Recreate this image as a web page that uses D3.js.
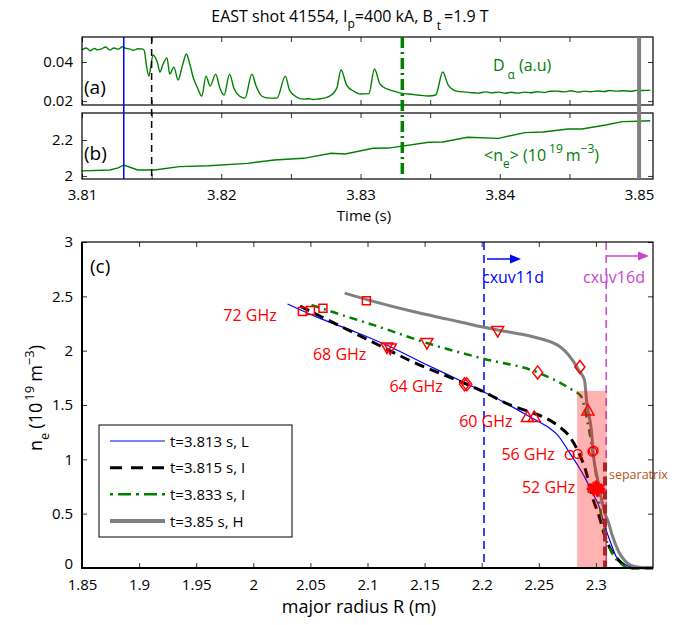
<!DOCTYPE html>
<html>
<head>
<meta charset="utf-8">
<script src="https://cdn.jsdelivr.net/npm/d3@7/dist/d3.min.js"></script>
<style>
    body { margin: 0; background: white; }
    svg text { font-family: "Open Sans", sans-serif; }
</style>
</head>
<body>
<svg id="chart" width="675" height="625"></svg>
<script>
    // ---------- data ----------
    // (a) D-alpha trace
    let daTime = [3.8100, 3.8103, 3.8106, 3.8109, 3.8111, 3.8114, 3.8117, 3.8120, 3.8123, 3.8126,
        3.8129, 3.8131, 3.8134, 3.8137, 3.8140, 3.8144, 3.8145, 3.8146, 3.8148, 3.8149,
        3.8151, 3.8154, 3.8156, 3.8158, 3.8161, 3.8163, 3.8166, 3.8169, 3.8172, 3.8175,
        3.8177, 3.8180, 3.8183, 3.8186, 3.8189, 3.8192, 3.8196, 3.8199, 3.8202, 3.8206,
        3.8209, 3.8213, 3.8217, 3.8222, 3.8225, 3.8229, 3.8234, 3.8240, 3.8246, 3.8249,
        3.8254, 3.8259, 3.8263, 3.8266, 3.8270, 3.8274, 3.8279, 3.8283, 3.8286, 3.8290,
        3.8295, 3.8300, 3.8306, 3.8310, 3.8314, 3.8319, 3.8324, 3.8329, 3.8334, 3.8341,
        3.8349, 3.8354, 3.8359, 3.8363, 3.8369, 3.8376, 3.8380, 3.8384, 3.8390, 3.8394,
        3.8399, 3.8404, 3.8408, 3.8413, 3.8418, 3.8422, 3.8427, 3.8432, 3.8436, 3.8441,
        3.8446, 3.8451, 3.8456, 3.8461, 3.8465, 3.8470, 3.8475, 3.8479, 3.8484, 3.8489,
        3.8494, 3.8499, 3.8503, 3.8508]
    let daValue = [0.0462, 0.0472, 0.0458, 0.0470, 0.0462, 0.0467, 0.0477, 0.0461, 0.0472, 0.0466,
        0.0478, 0.0471, 0.0467, 0.0460, 0.0468, 0.0466, 0.0451, 0.0395, 0.0328, 0.0359,
        0.0436, 0.0400, 0.0349, 0.0385, 0.0421, 0.0338, 0.0374, 0.0308, 0.0379, 0.0441,
        0.0400, 0.0318, 0.0267, 0.0226, 0.0328, 0.0277, 0.0338, 0.0267, 0.0231, 0.0338,
        0.0267, 0.0226, 0.0215, 0.0338, 0.0277, 0.0226, 0.0215, 0.0215, 0.0328, 0.0256,
        0.0221, 0.0210, 0.0212, 0.0208, 0.0211, 0.0215, 0.0231, 0.0267, 0.0359, 0.0282,
        0.0251, 0.0236, 0.0238, 0.0364, 0.0287, 0.0262, 0.0251, 0.0241, 0.0236, 0.0231,
        0.0226, 0.0231, 0.0349, 0.0282, 0.0251, 0.0246, 0.0243, 0.0241, 0.0247, 0.0242,
        0.0246, 0.0240, 0.0245, 0.0241, 0.0246, 0.0243, 0.0248, 0.0244, 0.0250, 0.0251,
        0.0247, 0.0253, 0.0246, 0.0251, 0.0248, 0.0252, 0.0249, 0.0254, 0.0251, 0.0253,
        0.0250, 0.0256, 0.0254, 0.0256]

    // (b) line-averaged density
    let neTime = [3.8100, 3.8120, 3.8126, 3.8130, 3.8140, 3.8152, 3.8170, 3.8191, 3.8219, 3.8238,
        3.8259, 3.8279, 3.8289, 3.8309, 3.8320, 3.8349, 3.8359, 3.8377, 3.8399, 3.8418,
        3.8431, 3.8449, 3.8459, 3.8476, 3.8488, 3.8499, 3.8508]
    let neValue = [2.028, 2.033, 2.045, 2.061, 2.033, 2.033, 2.052, 2.057, 2.070, 2.089,
        2.098, 2.126, 2.122, 2.154, 2.155, 2.187, 2.189, 2.215, 2.209, 2.241,
        2.244, 2.261, 2.261, 2.283, 2.302, 2.304, 2.307]

    // times of the four profiles
    let profileTimes = [3.813, 3.815, 3.833, 3.85]
    let legendLabels = ["t=3.813 s, L", "t=3.815 s, I", "t=3.833 s, I", "t=3.85 s, H"]

    // (c) density profiles
    let rL = [2.030, 2.060, 2.090, 2.117, 2.150, 2.186, 2.215, 2.244, 2.259, 2.266, 2.277, 2.285, 2.291, 2.297, 2.303, 2.307, 2.312, 2.318, 2.326, 2.335, 2.350]
    let nL = [2.43, 2.29, 2.17, 2.05, 1.88, 1.70, 1.55, 1.38, 1.29, 1.23, 1.06, 0.93, 0.82, 0.69, 0.56, 0.41, 0.26, 0.10, 0.03, 0.00, 0.00]
    let rI1 = [2.041, 2.060, 2.087, 2.110, 2.139, 2.178, 2.198, 2.225, 2.244, 2.256, 2.268, 2.277, 2.285, 2.291, 2.297, 2.303, 2.307, 2.312, 2.320, 2.332, 2.350]
    let nI1 = [2.41, 2.31, 2.17, 2.05, 1.90, 1.73, 1.64, 1.50, 1.43, 1.38, 1.30, 1.21, 1.06, 0.90, 0.65, 0.47, 0.32, 0.19, 0.07, 0.00, 0.00]
    let rI2 = [2.051, 2.080, 2.110, 2.152, 2.200, 2.249, 2.279, 2.287, 2.291, 2.296, 2.300, 2.303, 2.307, 2.314, 2.322, 2.329, 2.350]
    let nI2 = [2.42, 2.32, 2.22, 2.07, 1.93, 1.80, 1.64, 1.58, 1.43, 1.15, 0.87, 0.60, 0.35, 0.14, 0.04, 0.00, 0.00]
    let rH = [2.080, 2.110, 2.140, 2.170, 2.200, 2.214, 2.244, 2.268, 2.279, 2.285, 2.290, 2.292, 2.296, 2.298, 2.301, 2.305, 2.308, 2.311, 2.314, 2.320, 2.326, 2.332, 2.340, 2.350]
    let nH = [2.53, 2.44, 2.36, 2.29, 2.22, 2.19, 2.13, 2.04, 1.92, 1.82, 1.73, 1.52, 1.27, 1.02, 0.84, 0.63, 0.50, 0.42, 0.31, 0.15, 0.06, 0.02, 0.005, 0.00]

    // reflectometer channels: markers
    let freqLabels = ["72 GHz", "68 GHz", "64 GHz", "60 GHz", "56 GHz", "52 GHz"]
    let freqLabelR = [2.0205, 2.099, 2.166, 2.227, 2.264, 2.282]
    let freqLabelNe = [2.274, 1.915, 1.62, 1.30, 0.994, 0.69]
    let mark72 = [[2.043, 2.36], [2.050, 2.37], [2.061, 2.39], [2.099, 2.46]]
    let mark68 = [[2.117, 2.03], [2.120, 2.02], [2.152, 2.07], [2.214, 2.18]]
    let mark64 = [[2.185, 1.69], [2.187, 1.69], [2.249, 1.80], [2.286, 1.85]]
    let mark60 = [[2.240, 1.39], [2.246, 1.39], [2.293, 1.45]]
    let mark56 = [[2.277, 1.04], [2.284, 1.05], [2.297, 1.07], [2.298, 1.08]]
    let mark52 = [[2.298, 0.73], [2.300, 0.74], [2.302, 0.73], [2.301, 0.72]]

    // CXRS channel positions, separatrix, shaded zone
    let cxuvR = [2.202, 2.309]
    let cxuvLabels = ["cxuv11d", "cxuv16d"]
    let separatrixR = 2.308
    let separatrixTop = 0.97
    let shadeR = [2.2836, 2.3096]
    let shadeTop = 1.63

    // ticks
    let timeTicks = [3.81, 3.815, 3.82, 3.825, 3.83, 3.835, 3.84, 3.845, 3.85]
    let timeLabels = [3.81, 3.82, 3.83, 3.84, 3.85]
    let daTicks = [0.02, 0.04]
    let neTicks = [2, 2.2]
    let rTicks = [1.85, 1.9, 1.95, 2, 2.05, 2.1, 2.15, 2.2, 2.25, 2.3]
    let nTicks = [0, 0.5, 1, 1.5, 2, 2.5, 3]

    ////////////////////////////////////////////////////////////////

    let svg = d3.select("#chart")
    let font = "'Open Sans', sans-serif"

    let tScale = d3.scaleLinear().domain([3.81, 3.851]).range([82, 653])
    let yA = d3.scaleLinear().domain([0.018, 0.0528]).range([105, 37])
    let yB = d3.scaleLinear().domain([1.983, 2.35]).range([179, 113])
    let rScale = d3.scaleLinear().domain([1.85, 2.35]).range([82, 653])
    let nScale = d3.scaleLinear().domain([0, 3]).range([568, 242])

    // box with inward ticks on all four sides (matlab style)
    function drawFrame(x, y, xTicks, yTicks, xFmt, yFmt, pad) {
        let [x0, x1] = x.range()
        let [y0, y1] = y.range()
        let axes = [
            [d3.axisBottom(x).tickValues(xTicks).tickFormat(xFmt), `translate(0,${y0})`],
            [d3.axisTop(x).tickValues(xTicks).tickFormat(""), `translate(0,${y1})`],
            [d3.axisLeft(y).tickValues(yTicks).tickFormat(yFmt), `translate(${x0},0)`],
            [d3.axisRight(y).tickValues(yTicks).tickFormat(""), `translate(${x1},0)`]
        ]
        let groups = axes.map(([ax, tr], i) => {
            let g = svg.append("g").attr("transform", tr)
                .call(ax.tickSizeInner(-5).tickSizeOuter(0).tickPadding(i == 0 ? pad.x : pad.y))
            g.select(".domain").remove()
            g.selectAll("line").attr("stroke", "#333")
            g.selectAll("text").attr("font-family", font).attr("font-size", 15).attr("fill", "#000")
            return g
        })
        svg.append("rect")
            .attr("x", x0).attr("y", y1)
            .attr("width", x1 - x0).attr("height", y0 - y1)
            .attr("fill", "none").attr("stroke", "#000").attr("stroke-width", 1.2)
        return groups
    }

    function drawTopPanels() {
        let lineA = d3.line().curve(d3.curveMonotoneX).x((d, i) => tScale(daTime[i])).y(d => yA(d))
        let lineB = d3.line().x((d, i) => tScale(neTime[i])).y(d => yB(d))

        svg.append("path").datum(daValue).attr("d", lineA)
            .attr("fill", "none").attr("stroke", "#008000").attr("stroke-width", 1.4)
        svg.append("path").datum(neValue).attr("d", lineB)
            .attr("fill", "none").attr("stroke", "#008000").attr("stroke-width", 1.4)

        drawFrame(tScale, yA, timeTicks, daTicks, "", d => d, { x: 10, y: 9 })
        drawFrame(tScale, yB, timeTicks, neTicks,
            d => timeLabels.includes(d) ? d : "", d => d, { x: 10, y: 9 })

        // time markers crossing both panels
        let styles = [
            { c: "#0000ff", w: 1.5, dash: null },
            { c: "#000000", w: 1.5, dash: "7,5" },
            { c: "#008000", w: 3.5, dash: "11,4,2,4" },
            { c: "#808080", w: 4, dash: null }
        ]
        svg.selectAll(".tmark").data(profileTimes).enter().append("line")
            .attr("x1", d => tScale(d)).attr("x2", d => tScale(d))
            .attr("y1", 37).attr("y2", 179)
            .attr("stroke", (d, i) => styles[i].c)
            .attr("stroke-width", (d, i) => styles[i].w)
            .attr("stroke-dasharray", (d, i) => styles[i].dash)

        // labels
        svg.append("text").attr("x", 84).attr("y", 94).attr("font-size", 19).text("(a)")
        svg.append("text").attr("x", 84).attr("y", 160).attr("font-size", 19).text("(b)")

        let da = svg.append("text").attr("x", 493).attr("y", 71).attr("font-size", 16).attr("fill", "#008000")
        da.append("tspan").text("D")
        da.append("tspan").attr("dx", 3).attr("dy", 8).attr("font-size", 12).text("α")
        da.append("tspan").attr("dx", 4).attr("dy", -8).text("(a.u)")

        let nel = svg.append("text").attr("x", 484).attr("y", 161).attr("font-size", 16).attr("fill", "#008000")
        nel.append("tspan").text("<n")
        nel.append("tspan").attr("dy", 7).attr("font-size", 12).text("e")
        nel.append("tspan").attr("dy", -7).text("> (10")
        nel.append("tspan").attr("dx", 3).attr("dy", -8).attr("font-size", 12).text("19")
        nel.append("tspan").attr("dx", 3).attr("dy", 8).text("m")
        nel.append("tspan").attr("dy", -8).attr("font-size", 12).text("−3")
        nel.append("tspan").attr("dy", 8).text(")")

        svg.append("text").attr("x", 364).attr("y", 221).attr("text-anchor", "middle")
            .attr("font-size", 15).text("Time (s)")

        let title = svg.append("text").attr("x", 350).attr("y", 22).attr("text-anchor", "middle").attr("font-size", 16)
        title.append("tspan").text("EAST shot 41554, I")
        title.append("tspan").attr("dy", 6).attr("font-size", 12).text("p")
        title.append("tspan").attr("dy", -6).text("=400 kA, B")
        title.append("tspan").attr("dx", 4).attr("dy", 8).attr("font-size", 12).text("t")
        title.append("tspan").attr("dx", 3).attr("dy", -8).text("=1.9 T")
    }

    function drawProfilePanel() {
        let g = svg.append("g")

        // channel lines and arrows
        let cxColors = ["#0000ff", "#cc44cc"]
        cxuvR.forEach((r, i) => {
            g.append("line")
                .attr("x1", rScale(r)).attr("x2", rScale(r))
                .attr("y1", nScale(3)).attr("y2", nScale(0))
                .attr("stroke", cxColors[i]).attr("stroke-width", 1.5).attr("stroke-dasharray", "8,5")
            let ay = i == 0 ? 259 : 256
            let ax0 = rScale(r) + (i == 0 ? 3 : 0)
            let ax1 = i == 0 ? 521 : 649
            g.append("line").attr("x1", ax0).attr("x2", ax1 - 8).attr("y1", ay).attr("y2", ay)
                .attr("stroke", cxColors[i]).attr("stroke-width", 1.5)
            g.append("path").attr("d", `M${ax1},${ay} L${ax1 - 11},${ay - 4.5} L${ax1 - 11},${ay + 4.5} Z`)
                .attr("fill", cxColors[i])
            g.append("text").attr("x", i == 0 ? 482 : 583).attr("y", 283)
                .attr("font-size", 16).attr("fill", cxColors[i]).text(cxuvLabels[i])
        })

        // profiles
        let profiles = [
            { r: rL, n: nL, c: "#0000ff", w: 1.2, dash: null },
            { r: rI1, n: nI1, c: "#000000", w: 3, dash: "10,6" },
            { r: rI2, n: nI2, c: "#008000", w: 2.5, dash: "8,5,2,5" },
            { r: rH, n: nH, c: "#808080", w: 3, dash: null }
        ]
        let line = d3.line().curve(d3.curveMonotoneX).x(d => rScale(d[0])).y(d => nScale(d[1]))
        profiles.forEach(p => {
            g.append("path").datum(p.r.map((r, i) => [r, p.n[i]])).attr("d", line)
                .attr("fill", "none").attr("stroke", p.c).attr("stroke-width", p.w)
                .attr("stroke-dasharray", p.dash)
        })

        // shaded pedestal zone
        g.append("rect")
            .attr("x", rScale(shadeR[0])).attr("width", rScale(shadeR[1]) - rScale(shadeR[0]))
            .attr("y", nScale(shadeTop)).attr("height", nScale(0) - nScale(shadeTop))
            .attr("fill", "#ff0000").attr("fill-opacity", 0.3)

        // separatrix
        g.append("line")
            .attr("x1", rScale(separatrixR)).attr("x2", rScale(separatrixR))
            .attr("y1", nScale(separatrixTop)).attr("y2", nScale(0))
            .attr("stroke", "#b22222").attr("stroke-width", 4).attr("stroke-dasharray", "9,5")
        g.append("text").attr("x", 609).attr("y", 479).attr("font-size", 12.5).attr("fill", "#b5561e").text("separatrix")

        // markers
        let sym = (type, size) => d3.symbol().type(type).size(size)
        let tri = (up) => {
            let s = 6
            return up ? `M0,${-s} L${s},${s * 0.75} L${-s},${s * 0.75} Z` : `M0,${s} L${s},${-s * 0.75} L${-s},${-s * 0.75} Z`
        }
        let markerSets = [
            { pts: mark72, d: sym(d3.symbolSquare, 64)() },
            { pts: mark68, d: tri(false) },
            { pts: mark64, d: "M0,-6.5 L5,0 L0,6.5 L-5,0 Z" },
            { pts: mark60, d: tri(true) },
            { pts: mark56, d: sym(d3.symbolCircle, 60)() }
        ]
        markerSets.forEach(m => {
            g.selectAll(null).data(m.pts).enter().append("path")
                .attr("transform", d => `translate(${rScale(d[0])},${nScale(d[1])})`)
                .attr("d", m.d).attr("fill", "none").attr("stroke", "#ff0000").attr("stroke-width", 1.5)
        })
        g.selectAll(null).data(mark52).enter().append("path")
            .attr("transform", d => `translate(${rScale(d[0])},${nScale(d[1])})`)
            .attr("d", "M0,-7 L0,7 M-6,-3.5 L6,3.5 M-6,3.5 L6,-3.5 M-7,0 L7,0")
            .attr("fill", "none").attr("stroke", "#ff0000").attr("stroke-width", 2.5)

        g.selectAll(null).data(freqLabels).enter().append("text")
            .attr("x", (d, i) => rScale(freqLabelR[i])).attr("y", (d, i) => nScale(freqLabelNe[i]))
            .attr("text-anchor", "end").attr("font-size", 16).attr("fill", "#ff0000").text(d => d)

        let axes = drawFrame(rScale, nScale, rTicks, nTicks, d => d, d => d, { x: 11, y: 9 })
        // the "0" label sits a little higher so that it clears "1.85"
        axes[2].selectAll(".tick text").filter(d => d == 0).attr("dy", "0.05em")
        // heavier left and bottom axis lines
        svg.append("path").attr("d", `M82,242 L82,568 L653,568`)
            .attr("fill", "none").attr("stroke", "#000").attr("stroke-width", 2)

        svg.append("text").attr("x", 90).attr("y", 273).attr("font-size", 19).text("(c)")

        svg.append("text").attr("x", 359).attr("y", 613).attr("text-anchor", "middle")
            .attr("font-size", 18).text("major radius R (m)")

        let yl = svg.append("text").attr("transform", "translate(42,398) rotate(-90)")
            .attr("text-anchor", "middle").attr("font-size", 18)
        yl.append("tspan").text("n")
        yl.append("tspan").attr("dy", 7).attr("font-size", 13).text("e")
        yl.append("tspan").attr("dx", 4).attr("dy", -7).text("(10")
        yl.append("tspan").attr("dx", 2).attr("dy", -8).attr("font-size", 13).text("19")
        yl.append("tspan").attr("dx", 4).attr("dy", 8).text("m")
        yl.append("tspan").attr("dy", -8).attr("font-size", 13).text("−3")
        yl.append("tspan").attr("dy", 8).text(")")
    }

    function drawLegend() {
        let styles = [
            { c: "#0000ff", w: 1.2, dash: null },
            { c: "#000000", w: 3, dash: "12,9" },
            { c: "#008000", w: 2.5, dash: "3,5,13,5" },
            { c: "#808080", w: 4, dash: null }
        ]
        let lg = svg.append("g")
        lg.append("rect").attr("x", 99).attr("y", 425).attr("width", 193).attr("height", 112)
            .attr("fill", "white").attr("stroke", "#000").attr("stroke-width", 1)
        let rowY = d3.scaleLinear().domain([0, 3]).range([441, 521])
        legendLabels.forEach((lab, i) => {
            lg.append("line").attr("x1", 110).attr("x2", 165).attr("y1", rowY(i)).attr("y2", rowY(i))
                .attr("stroke", styles[i].c).attr("stroke-width", styles[i].w)
                .attr("stroke-dasharray", styles[i].dash)
            lg.append("text").attr("x", 170).attr("y", rowY(i) + 5.5).attr("font-size", 15).text(lab)
        })
    }

    drawTopPanels()
    drawProfilePanel()
    drawLegend()
</script>
</body>
</html>
